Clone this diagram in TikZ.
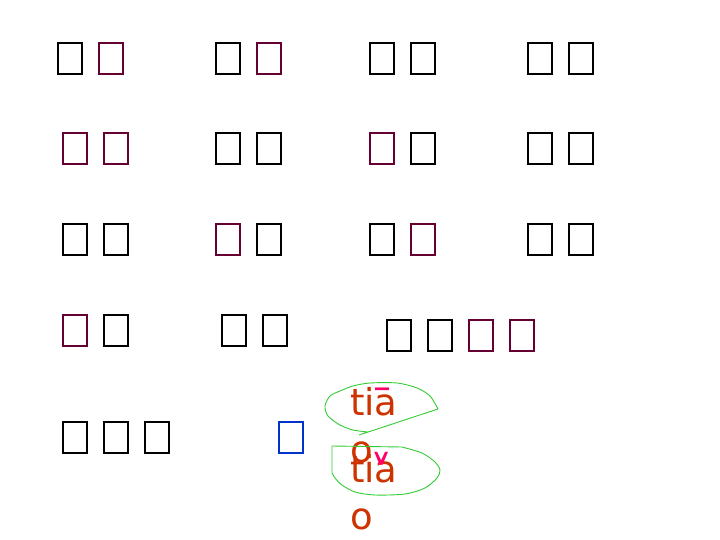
\documentclass[tikz,border=0pt]{standalone}
\usepackage{fontspec, graphicx}
\newfontfamily\pinyinfont{DejaVu Sans}
\definecolor{hanpurple}{HTML}{660033}
\definecolor{hanblue}{HTML}{0033CC}
\definecolor{pinyinred}{HTML}{CC3300}
\definecolor{tonepink}{HTML}{FF0066}
\definecolor{ringgreen}{HTML}{33CC33}
\tikzset{
  tofu/.style={draw, minimum width=24pt, minimum height=31pt, inner sep=0pt, line width=1.8pt},
  pinyin/.style={font=\pinyinfont\fontsize{37}{44}\selectfont, text=pinyinred, inner sep=0pt, anchor=base west},
  tone/.style={font=\pinyinfont\fontsize{37}{44}\selectfont, text=tonepink, inner sep=0pt, anchor=north},
  ring/.style={draw=ringgreen, line width=0.9pt}
}

\begin{document}
\begin{tikzpicture}[x=1pt, y=-1pt]
    \useasboundingbox (0,0) rectangle (720,540);

    % First row
    \node[tofu] (a1) at (70,58.5) {};
    \node[tofu, hanpurple, line width=1.5pt] (a2) at (111,58.5) {};
    \node[tofu] (a3) at (228,58.5) {};
    \node[tofu, hanpurple, line width=1.5pt] (a4) at (269,58.5) {};
    \node[tofu] (a5) at (382,58.5) {};
    \node[tofu] (a6) at (423,58.5) {};
    \node[tofu] (a7) at (540,58.5) {};
    \node[tofu] (a8) at (581,58.5) {};

    % Second row
    \node[tofu, hanpurple, line width=1.5pt] (b1) at (75,148.5) {};
    \node[tofu, hanpurple, line width=1.5pt] (b2) at (116,148.5) {};
    \node[tofu] (b3) at (228,148.5) {};
    \node[tofu] (b4) at (269,148.5) {};
    \node[tofu, hanpurple, line width=1.5pt] (b5) at (382,148.5) {};
    \node[tofu] (b6) at (423,148.5) {};
    \node[tofu] (b7) at (540,148.5) {};
    \node[tofu] (b8) at (581,148.5) {};

    % Third row
    \node[tofu] (c1) at (75,239.5) {};
    \node[tofu] (c2) at (116,239.5) {};
    \node[tofu, hanpurple, line width=1.5pt] (c3) at (228,239.5) {};
    \node[tofu] (c4) at (269,239.5) {};
    \node[tofu] (c5) at (382,239.5) {};
    \node[tofu, hanpurple, line width=1.5pt] (c6) at (423,239.5) {};
    \node[tofu] (c7) at (540,239.5) {};
    \node[tofu] (c8) at (581,239.5) {};

    % Fourth row
    \node[tofu, hanpurple, line width=1.5pt] (d1) at (75,330.5) {};
    \node[tofu] (d2) at (116,330.5) {};
    \node[tofu] (d3) at (234,330.5) {};
    \node[tofu] (d4) at (275,330.5) {};
    \node[tofu] (d5) at (399,335.5) {};
    \node[tofu] (d6) at (440,335.5) {};
    \node[tofu, hanpurple, line width=1.5pt] (d7) at (481,335.5) {};
    \node[tofu, hanpurple, line width=1.5pt] (d8) at (522,335.5) {};

    % Fifth row
    \node[tofu] (e1) at (75,437.5) {};
    \node[tofu] (e2) at (116,437.5) {};
    \node[tofu] (e3) at (157,437.5) {};
    \node[tofu, hanblue] (e4) at (291,437.5) {};

    % Readings
    \node[pinyin] (py1) at (350,415) {tia};
    \node[pinyin] (py1o) at (350,462) {o};
    \node[pinyin] (py2) at (350,482) {tia};
    \node[pinyin] (py2o) at (350,529) {o};
    \node[tone] (tm1) at (383,388) {\scalebox{1.3}[1]{¯}};
    \node[tone] (tm2) at (382,452) {\scalebox{1.2}[1.9]{ˇ}};

    % Rings round the readings
    \draw[ring] (359,435) -- (438,409)
        plot[smooth] coordinates {(438,409) (430,396) (417,388) (397,383) (370,383)
        (353,386) (340,391) (330,396) (325,406) (328,416) (340,425) (353,430) (368,432)};
    \draw[ring] (332,473) -- (332,446) -- (402,447)
        plot[smooth] coordinates {(402,447) (422,453) (435,462) (440,470) (437,478)
        (425,488) (405,494) (375,495) (355,492) (342,485) (335,478) (332,473)};

\end{tikzpicture}
\end{document}
